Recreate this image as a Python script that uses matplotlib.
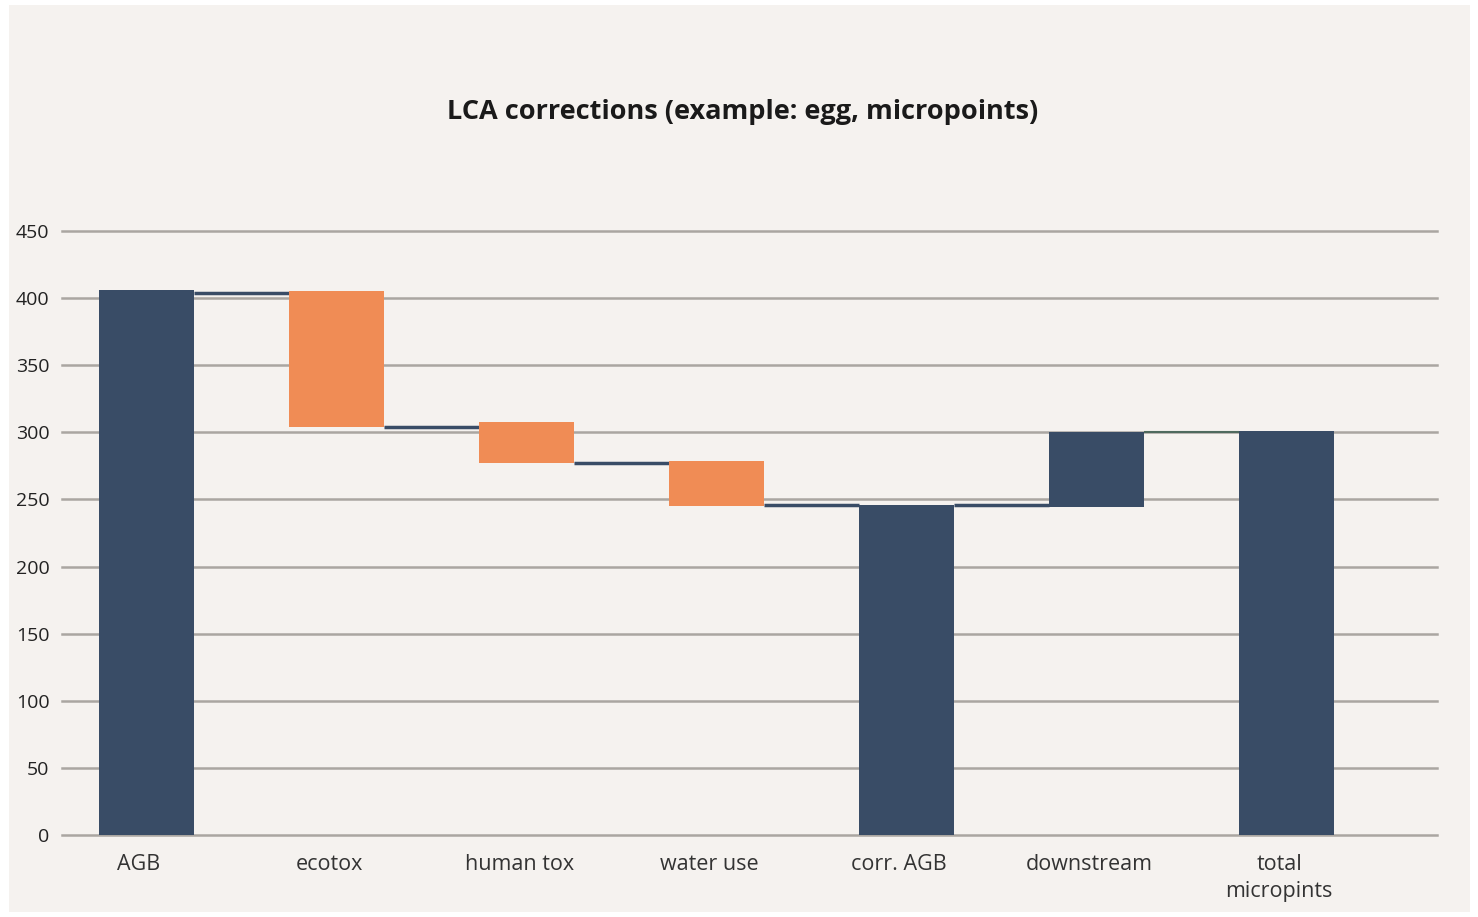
import matplotlib
matplotlib.use("Agg")
import matplotlib.pyplot as plt
from matplotlib.patches import Rectangle

categories = ["AGB", "ecotox", "human tox", "water use", "corr. AGB", "downstream", "total\nmicropints"]
bar_bottom = [0, 304, 277, 245, 0, 244, 0]
bar_top = [406, 405, 308, 279, 246, 300, 301]
bar_kind = ["total", "minus", "minus", "minus", "total", "plus", "total"]
connector_level = [404, 304, 277.5, 245.5, 245.5, 300]
yticks = [0, 50, 100, 150, 200, 250, 300, 350, 400, 450]

NAVY = "#394c66"
ORANGE = "#f08c55"
BG = "#f5f2ef"
GRID = "#aaa6a1"

plt.rcParams['font.family'] = ['Open Sans', 'DejaVu Sans']

W, H = 1478, 917
fig = plt.figure(figsize=(W / 100, H / 100), dpi=100, facecolor="white")
fig.patches.append(Rectangle((9 / W, 1 - 912 / H), (1470 - 9) / W, (912 - 5) / H,
                             transform=fig.transFigure, facecolor=BG, edgecolor="none", zorder=-10))

ax = fig.add_axes([62 / W, (H - 835) / H, (1437 - 62) / W, (835 - 231) / H])
ax.set_facecolor("none")
ax.set_zorder(5)

x = list(range(len(categories)))
width = 0.5
heights = [t - b for t, b in zip(bar_top, bar_bottom)]
colors = [ORANGE if k == "minus" else NAVY for k in bar_kind]
ax.bar(x, heights, bottom=bar_bottom, width=width, color=colors, zorder=3)

for i, lvl in enumerate(connector_level):
    col = "#4f6a5e" if i == len(connector_level) - 1 else NAVY
    lw = 1.5 if i == len(connector_level) - 1 else 2.5
    ax.plot([x[i] + width / 2, x[i + 1] - width / 2], [lvl, lvl], color=col, lw=lw, zorder=2,
            solid_capstyle="butt")

ax.set_ylim(0, 450)
ax.set_xlim(-0.445, 6.79)
ax.set_yticks(yticks)
ax.set_yticklabels([str(v) for v in yticks], fontsize=14, color="#222222")
ax.yaxis.grid(True, color=GRID, lw=1.8, zorder=1)
for gl in ax.yaxis.get_gridlines():
    gl.set_clip_on(False)
ax.set_axisbelow(True)
ax.tick_params(axis="y", length=0, pad=9)
ax.set_xticks([v - 0.04 for v in x])
ax.set_xticklabels(categories, fontsize=15.5, color="#333333", linespacing=1.35, va="top")
ax.tick_params(axis="x", length=0, pad=14)
for s in ax.spines.values():
    s.set_visible(False)

fig.text((444 + 1042) / 2 / W, 1 - 112 / H, "LCA corrections (example: egg, micropoints)",
         ha="center", va="center", fontsize=19.5, fontweight="bold", color="#1a1a1a")

fig.savefig("out.png", dpi=100, facecolor="white")
